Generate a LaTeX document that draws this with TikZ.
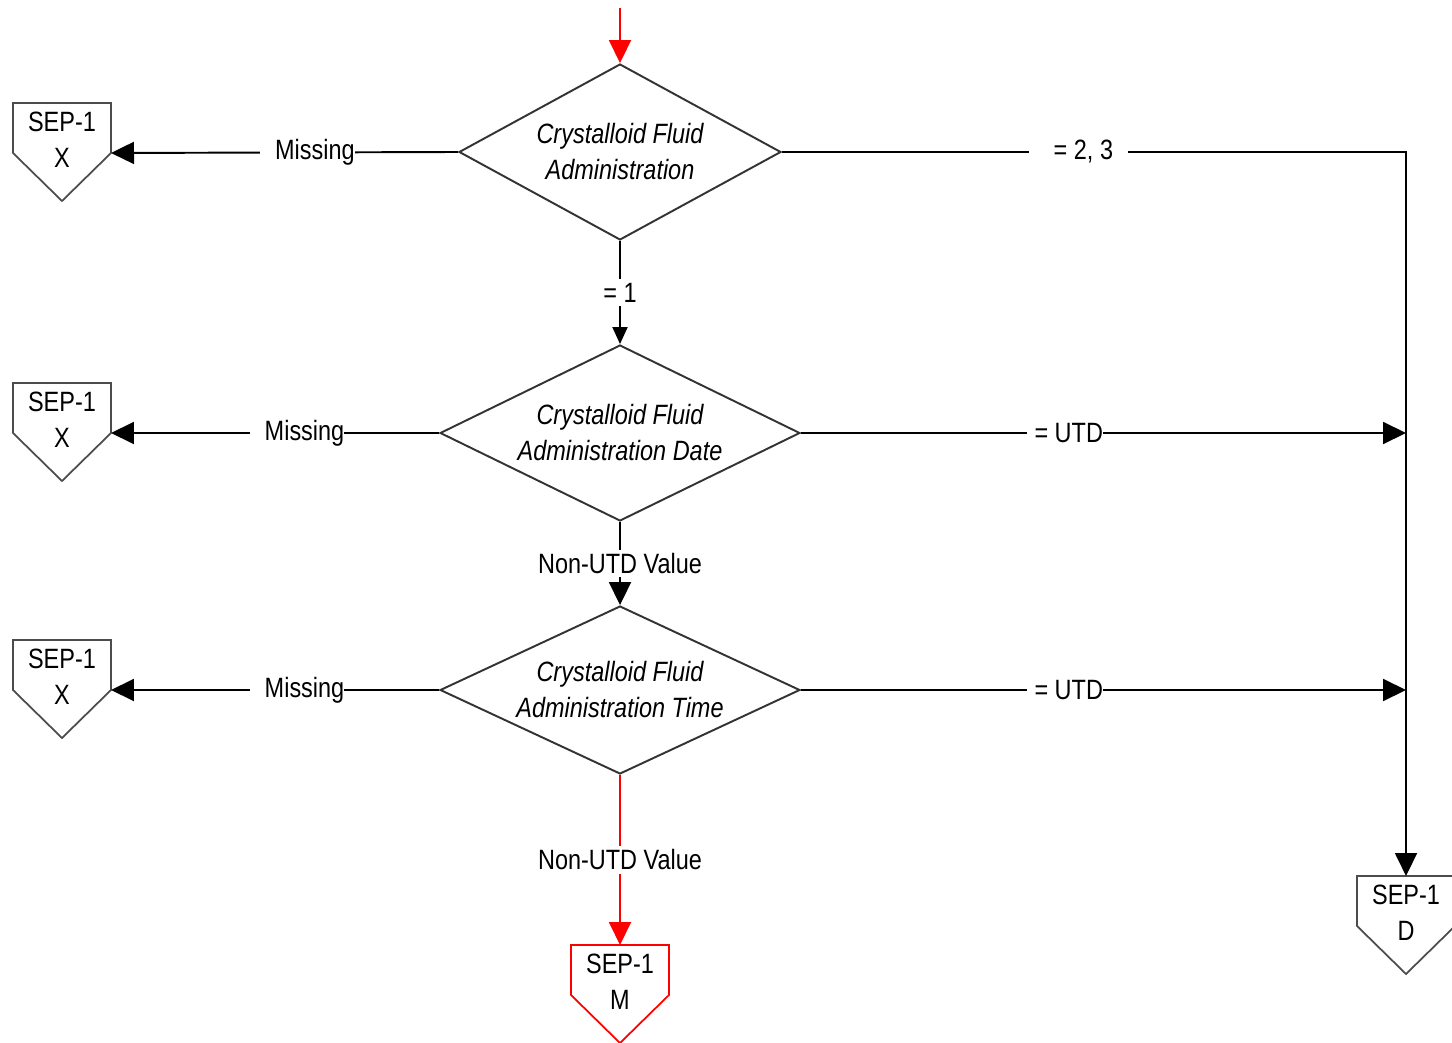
\documentclass[tikz,border=0pt]{standalone}
\usepackage{fontspec}
\setmainfont{Liberation Sans}[FakeStretch=0.84]
\usetikzlibrary{shapes.geometric,arrows.meta,calc}

\begin{document}
\begin{tikzpicture}[
            x=0.02cm,
            y=-0.02cm,
            font=\fontsize{15.9}{20.5}\selectfont,
            line width=1.1pt,
            decision/.style={draw=black!80, diamond, aspect=2, inner sep=0pt,
                minimum height=3.52cm, align=center,
                font=\fontsize{15.9}{20.5}\selectfont\itshape},
            sepbox/.style={inner sep=0pt, align=center},
            outline/.style={draw=black!70, line width=1pt},
            flow/.style={-{Triangle[length=0.46cm, width=0.44cm]}},
            smallflow/.style={-{Triangle[length=0.34cm, width=0.3cm]}},
            lbl/.style={fill=white, text=black, inner xsep=4pt, inner ysep=2pt},
            sidelbl/.style={fill=white, text=black, inner xsep=0pt, inner ysep=2pt}
        ]

        \useasboundingbox (0,0) rectangle (1452,1043);

        \coordinate (entry) at (620,8);

        % decisions
        \node[decision, minimum width=6.44cm] (d1) at (620,152) {Crystalloid Fluid\\Administration};
        \node[decision, minimum width=7.2cm] (d2) at (620,433) {Crystalloid Fluid\\Administration Date};
        \node[decision, minimum width=7.2cm, minimum height=3.36cm] (d3) at (620,690) {Crystalloid Fluid\\Administration Time};

        % off-page connectors
        \node[sepbox] (sepx1) at (62,140) {SEP-1\\X};
        \node[sepbox] (sepx2) at (62,420) {SEP-1\\X};
        \node[sepbox] (sepx3) at (62,677) {SEP-1\\X};
        \node[sepbox] (sepd) at (1406,913) {SEP-1\\D};
        \node[sepbox] (sepm) at (620,982) {SEP-1\\M};

        \foreach \n in {sepx1, sepx2, sepx3}
            \coordinate (\n-in) at ($(\n)+(49,13)$);
        \coordinate (sepd-in) at ($(sepd)+(0,-37)$);
        \coordinate (sepm-in) at ($(sepm)+(0,-37)$);

        \foreach \n in {sepx1, sepx2, sepx3, sepd}
            \draw[outline] ($(\n)+(-49,-37)$) -- ($(\n)+(49,-37)$) -- ($(\n)+(49,13)$)
                -- ($(\n)+(0,61)$) -- ($(\n)+(-49,13)$) -- cycle;
        \draw[outline, draw=red] ($(sepm)+(-49,-37)$) -- ($(sepm)+(49,-37)$) -- ($(sepm)+(49,13)$)
            -- ($(sepm)+(0,61)$) -- ($(sepm)+(-49,13)$) -- cycle;

        % main path
        \draw[flow, red] (entry) -- (d1.north);
        \draw[smallflow] (d1.south) -- node[lbl] (eq1) {= 1} (d2.north);
        \draw[flow] (d2.south) -- node[lbl] (nonutd1) {Non-UTD Value} (d3.north);
        \draw[flow, red] (d3.south) -- node[lbl] (nonutd2) {Non-UTD Value} (sepm-in);

        % missing branches
        \draw[flow] (d1.west) -- node[sidelbl, pos=0.434] (miss1) {\kern0.3cm Missing} (sepx1-in);
        \draw[flow] (d2.west) -- node[sidelbl, pos=0.433] (miss2) {\kern0.3cm Missing} (sepx2-in);
        \draw[flow] (d3.west) -- node[sidelbl, pos=0.433] (miss3) {\kern0.3cm Missing} (sepx3-in);

        % right side
        \draw[flow] (d1.east) -- node[sidelbl, pos=0.475] (eq23) {\kern0.5cm = 2, 3\kern0.3cm} (d1.east -| sepd) -- (sepd-in);
        \draw[flow] (d2.east) -- node[sidelbl, pos=0.436] (utd1) {\kern0.16cm = UTD} (d2.east -| sepd);
        \draw[flow] (d3.east) -- node[sidelbl, pos=0.436] (utd2) {\kern0.16cm = UTD} (d3.east -| sepd);

        \end{tikzpicture}
\end{document}
